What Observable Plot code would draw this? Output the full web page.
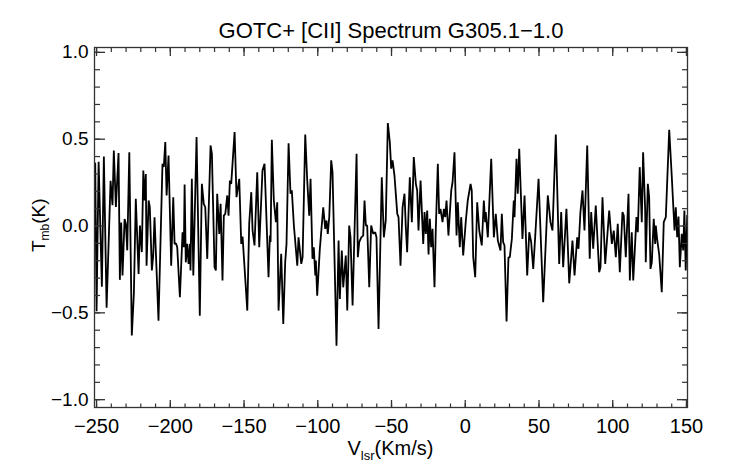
<!DOCTYPE html>
<html>
<head>
<meta charset="utf-8">
<script src="https://cdn.jsdelivr.net/npm/d3@7"></script>
<script src="https://cdn.jsdelivr.net/npm/@observablehq/plot@0.6"></script>
<style>
  html, body { margin: 0; padding: 0; background: #fff; }
  #chart { width: 742px; height: 464px; }
</style>
</head>
<body>
<div id="chart"></div>
<script>
const titleText = "GOTC+ [CII] Spectrum G305.1\u22121.0";
const xTicks = [-250, -200, -150, -100, -50, 0, 50, 100, 150];
const xMinorTicks = [-250,-240,-230,-220,-210,-200,-190,-180,-170,-160,-150,-140,-130,-120,-110,-100,-90,-80,-70,-60,-50,-40,-30,-20,-10,0,10,20,30,40,50,60,70,80,90,100,110,120,130,140,150];
const yTicks = [-1.0, -0.5, 0.0, 0.5, 1.0];
const yMinorTicks = [-1.0,-0.9,-0.8,-0.7,-0.6,-0.5,-0.4,-0.3,-0.2,-0.1,0,0.1,0.2,0.3,0.4,0.5,0.6,0.7,0.8,0.9,1.0];

const velocity = [
-250.9,-250.0,-248.6,-246.4,-245.05,-243.2,-240.5,-239.2,-238.3,-236.9,-235.1,-234.2,-233.3,-232.4,-231.0,-230.1,-229.2,-227.8,-226.1,-224.7,
-223.4,-221.5,-220.6,-219.3,-218.3,-217.5,-216.6,-216.1,-214.7,-213.9,-212.5,-211.6,-210.7,-208.0,-205.3,-204.4,-203.4,-202.5,-201.2,-199.4,
-198.0,-197.1,-196.2,-195.3,-193.5,-191.7,-190.8,-190.3,-189.5,-188.5,-187.6,-186.7,-186.3,-185.4,-184.4,-182.2,-180.0,-178.6,-177.3,-176.3,
-174.95,-172.7,-171.8,-170.0,-169.1,-168.2,-166.8,-165.9,-164.6,-163.7,-162.7,-161.4,-160.5,-159.6,-158.7,-156.4,-155.1,-153.25,-151.9,-151.0,
-147.8,-146.5,-145.1,-144.2,-142.9,-141.05,-139.7,-137.5,-136.1,-133.4,-132.5,-132.0,-131.15,-129.8,-128.4,-127.5,-126.6,-124.8,-123.4,-122.1,
-121.2,-119.8,-118.5,-117.6,-116.2,-113.9,-113.05,-111.2,-110.3,-108.5,-107.15,-105.8,-104.9,-103.6,-102.7,-101.7,-101.3,-100.4,-98.6,-96.3,
-94.95,-94.1,-93.2,-92.2,-90.9,-90.0,-87.3,-85.9,-85.05,-83.7,-82.75,-81.0,-80.0,-78.7,-77.8,-76.4,-73.7,-72.85,-71.9,-70.5,
-69.2,-68.3,-67.4,-66.5,-65.1,-63.8,-62.4,-61.05,-60.2,-58.8,-56.6,-55.2,-53.9,-52.5,-51.15,-50.2,-49.3,-48.0,-46.1,-45.25,
-43.9,-42.5,-41.2,-40.3,-39.4,-37.6,-36.2,-34.9,-33.5,-32.6,-31.7,-30.3,-28.5,-27.6,-26.75,-25.8,-24.9,-24.0,-23.1,-22.2,
-20.85,-20.0,-18.6,-17.7,-16.8,-15.4,-14.5,-13.6,-12.7,-11.4,-9.5,-8.6,-7.3,-5.9,-5.05,-3.7,-2.75,-1.4,0.4,1.7,
3.6,4.4,5.4,6.75,8.1,9.5,11.2,12.6,13.5,13.9,15.3,17.6,19.4,20.7,22.1,23.9,24.8,25.7,26.6,28.0,
29.3,30.2,31.6,32.9,33.4,34.75,35.6,36.6,38.8,40.2,42.0,43.4,44.7,46.1,47.4,49.7,52.85,55.97,57.8,59.15,
61.4,63.7,65.05,66.4,68.6,70.5,72.7,74.1,75.9,76.8,78.1,79.5,80.85,82.7,84.4,85.4,86.75,88.5,90.8,91.7,
93.05,94.9,97.6,99.4,100.7,102.1,103.4,104.8,106.6,107.5,108.85,110.7,111.6,112.9,113.9,116.1,117.0,118.3,119.7,120.6,
122.0,122.4,123.8,124.7,125.6,126.5,127.8,128.8,129.2,130.1,131.5,133.25,134.6,136.0,138.3,140.0,141.9,142.75,143.7,144.6,
145.5,146.8,147.8,148.6,149.5,150.5
];
const tmb = [
0.36,-0.49,0.37,-0.35,0.40,-0.47,0.26,0.12,0.435,0.11,0.42,-0.31,0.02,-0.285,0.04,0.01,-0.14,0.425,-0.63,-0.39,
0.157,-0.276,0.003,-0.15,0.32,0.147,0.30,-0.228,0.147,0.108,-0.256,-0.17,0.05,-0.545,0.358,0.34,0.483,0.176,0.406,-0.228,
0.166,-0.103,-0.099,-0.122,-0.41,-0.036,-0.122,0.239,-0.209,-0.103,-0.218,-0.103,-0.256,0.272,-0.285,0.512,-0.516,0.243,0.128,0.108,
-0.189,0.464,0.416,-0.237,-0.256,0.186,-0.045,0.128,-0.314,0.06,0.07,0.176,0.06,0.262,0.243,0.541,0.166,0.272,-0.103,-0.06,
-0.487,0.013,0.195,-0.026,-0.112,0.31,-0.122,0.32,0.358,-0.295,-0.055,-0.093,0.497,0.147,0.022,0.137,-0.487,-0.16,-0.564,-0.209,
-0.103,0.477,0.186,0.205,0.003,-0.228,-0.065,-0.218,-0.18,0.527,0.262,0.06,0.272,-0.189,-0.122,-0.285,-0.199,-0.401,-0.131,0.108,
-0.016,0.032,-0.045,0.055,0.378,0.31,-0.689,-0.084,-0.42,-0.141,-0.353,-0.17,-0.487,0.003,-0.065,-0.458,0.416,-0.18,-0.093,-0.065,
-0.055,0.147,0.003,0.003,-0.353,0.003,-0.045,-0.036,-0.065,-0.593,0.281,-0.065,0.032,0.593,0.483,0.33,0.378,0.291,0.07,0.051,
-0.228,0.108,0.186,-0.007,-0.151,0.281,0.022,0.397,0.243,0.205,-0.026,0.262,-0.103,0.08,-0.045,0.089,-0.164,0.041,-0.122,-0.016,
-0.353,-0.026,0.358,0.07,0.099,0.022,0.099,0.051,0.147,-0.055,0.205,0.252,0.425,-0.055,0.137,-0.122,0.051,-0.17,0.032,0.147,
0.243,0.205,-0.18,-0.295,0.137,-0.026,-0.112,0.147,0.022,0.08,-0.065,0.387,-0.065,0.07,-0.084,-0.141,0.07,-0.093,-0.112,-0.549,
-0.18,-0.18,-0.074,0.147,0.051,0.387,0.186,0.445,-0.074,0.176,-0.285,-0.036,-0.093,-0.247,-0.065,0.272,-0.439,0.176,0.022,-0.026,
0.527,-0.218,0.08,-0.237,0.099,-0.33,-0.084,-0.285,-0.065,-0.131,0.08,0.205,-0.026,0.464,-0.189,0.08,-0.131,0.118,-0.266,-0.237,
0.166,-0.218,0.089,-0.103,-0.026,-0.18,0.013,-0.266,0.08,0.06,-0.18,0.186,-0.314,-0.036,-0.314,0.051,-0.036,0.339,0.022,0.425,
0.089,-0.209,0.243,0.166,-0.247,-0.209,0.041,-0.103,0.003,-0.074,-0.164,-0.381,0.022,0.051,0.554,0.291,-0.026,0.108,-0.065,0.055,
-0.237,-0.045,-0.141,0.089,-0.256,0.06
];

const points = velocity.map((v, i) => ({v, t: tmb[i]}));
const minus = s => s.replace("-", "\u2212");
const axisColor = "#333";
const font = "'Liberation Sans', Arial, Helvetica, sans-serif";

const chart = Plot.plot({
  width: 742,
  height: 464,
  marginLeft: 94,
  marginRight: 55,
  marginTop: 47,
  marginBottom: 57,
  x: {domain: [-251.4, 150.7], axis: null},
  y: {domain: [-1.045, 1.028], axis: null},
  style: {fontFamily: font, background: "#fff", color: "#000"},
  marks: [
    Plot.line(points, {x: "v", y: "t", stroke: "#000", strokeWidth: 1.8, strokeLinejoin: "miter"}),
    Plot.frame({stroke: axisColor, strokeWidth: 1.3}),
    Plot.axisX(xTicks, {anchor: "bottom", tickSize: -7, text: null, label: null, stroke: axisColor, strokeWidth: 1.3}),
    Plot.axisX(xMinorTicks, {anchor: "bottom", tickSize: -3.5, text: null, label: null, stroke: axisColor, strokeWidth: 1.2}),
    Plot.axisX(xTicks, {anchor: "top", tickSize: -8, text: null, label: null, stroke: axisColor, strokeWidth: 1.3}),
    Plot.axisX(xMinorTicks, {anchor: "top", tickSize: -4, text: null, label: null, stroke: axisColor, strokeWidth: 1.2}),
    Plot.axisY(yTicks, {anchor: "left", tickSize: -11, text: null, label: null, stroke: axisColor, strokeWidth: 1.3}),
    Plot.axisY(yMinorTicks, {anchor: "left", tickSize: -6, text: null, label: null, stroke: axisColor, strokeWidth: 1.2}),
    Plot.axisY(yTicks, {anchor: "right", tickSize: -11, text: null, label: null, stroke: axisColor, strokeWidth: 1.3}),
    Plot.axisY(yMinorTicks, {anchor: "right", tickSize: -6, text: null, label: null, stroke: axisColor, strokeWidth: 1.2}),
    Plot.axisX(xTicks, {anchor: "bottom", tickSize: 0, tickPadding: 11, fontSize: 20, label: null, fill: "#000",
      tickFormat: d => minus(String(d))}),
    Plot.axisY(yTicks, {anchor: "left", tickSize: 0, tickPadding: 6, fontSize: 19, label: null, fill: "#000",
      tickFormat: d => minus(d.toFixed(1))}),
    Plot.text([titleText], {frameAnchor: "top", dy: -25, fontSize: 22, fill: "#000", text: d => d})
  ]
});

const svg = d3.select(chart);
// x label: V_lsr(Km/s)
const xl = svg.append("text")
  .attr("x", 390.5).attr("y", 455)
  .attr("text-anchor", "middle")
  .attr("font-family", font).attr("font-size", 20).attr("fill", "#000");
xl.append("tspan").text("V");
xl.append("tspan").attr("font-size", 13).attr("dy", 5).text("lsr");
xl.append("tspan").attr("dy", -5).text("(Km/s)");

// y label: T_mb(K)
const yl = svg.append("text")
  .attr("transform", "translate(45,252) rotate(-90)")
  .attr("text-anchor", "start")
  .attr("font-family", font).attr("font-size", 19).attr("fill", "#000");
yl.append("tspan").text("T");
yl.append("tspan").attr("font-size", 12).attr("dy", 4).text("mb");
yl.append("tspan").attr("dy", -4).text("(K)");

document.getElementById("chart").append(chart);
</script>
</body>
</html>
